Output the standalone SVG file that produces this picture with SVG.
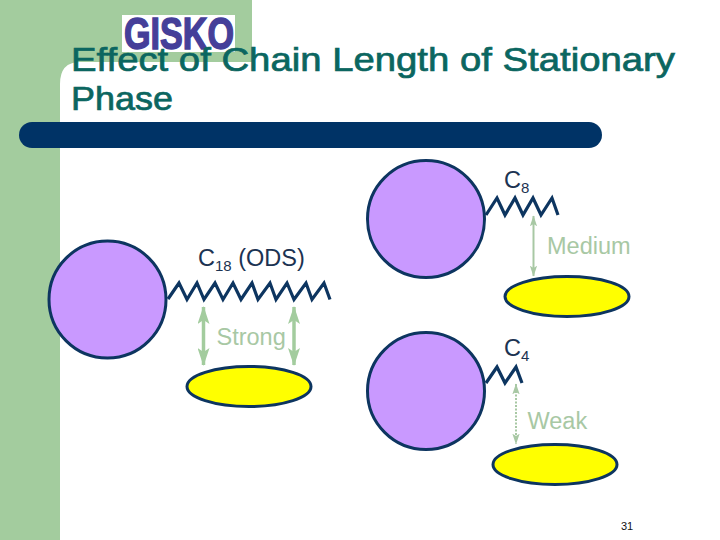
<svg xmlns="http://www.w3.org/2000/svg" width="720" height="540" viewBox="0 0 720 540">
<defs>
<marker id="ah" viewBox="0 0 18 12" refX="17" refY="6" markerWidth="18" markerHeight="12" orient="auto-start-reverse" markerUnits="userSpaceOnUse"><path d="M0 0L18 6L0 12L4 6Z" fill="#a3cc9e"/></marker>
<marker id="am" viewBox="0 0 18 12" refX="17" refY="6" markerWidth="11" markerHeight="7.300" orient="auto-start-reverse" markerUnits="userSpaceOnUse"><path d="M0 0L18 6L0 12L4 6Z" fill="#a8c8a4"/></marker>
</defs>
<style>
.sans{font-family:"Liberation Sans",Arial,sans-serif}
.title{font-size:33px;fill:#0b6660;stroke:#0b6660;stroke-width:.7px;font-family:"Liberation Sans",Arial,sans-serif}
.lab{font-size:23.500px;fill:#1c3352}
.sub{font-size:15px;fill:#1c3352}
.bond{font-size:23.500px;fill:#a8c8a4}
.bead{fill:#c999ff;stroke:#0d3560;stroke-width:3}
.tgt{fill:#ffff00;stroke:#0d3560;stroke-width:3}
.chain{fill:none;stroke:#0d3560;stroke-width:3.200}
.arr{fill:none}
</style>
<rect width="720" height="540" fill="#fff"/>
<path d="M0 0H252V62H80Q60 62 60 84V540H0Z" fill="#a3cc9e"/>
<g id="logo">
<rect x="122" y="15" width="113" height="37" fill="#fff"/>
<text x="124" y="49" class="sans" font-size="45" font-weight="700" fill="#453f99" stroke="#453f99" stroke-width="1.500" textLength="110" lengthAdjust="spacingAndGlyphs">GISKO</text>
</g>
<g id="title">
<text class="title" x="71" y="71" textLength="604" lengthAdjust="spacingAndGlyphs">Effect of Chain Length of Stationary</text>
<text class="title" x="71" y="110" textLength="102" lengthAdjust="spacingAndGlyphs">Phase</text>
</g>
<rect id="rule" x="19" y="122" width="583" height="26" rx="13" ry="13" fill="#003366"/>
<g id="connectors">
<path class="chain" d="M168 299L179 283L187 299.500L197 283L204 299.500L215 283L223 299.500L233 283L241 299.500L252 283L258 299.500L270 283L276 299.500L287 283L294 299.500L306 283L312 299.500L324 283L330 299.500"/>
<path class="chain" d="M486 215L497 198L505 215L515 198L523 215L533 198L541 215L552 198L558 215"/>
<path class="chain" d="M486 383L497 367L505 383L516 367L522 383"/>
<path class="arr" stroke="#a3cc9e" stroke-width="3.500" marker-start="url(#ah)" marker-end="url(#ah)" d="M203.500 307V365"/>
<path class="arr" stroke="#a3cc9e" stroke-width="3.500" marker-start="url(#ah)" marker-end="url(#ah)" d="M294 307V365"/>
<path class="arr" stroke="#a8c8a4" stroke-width="2" marker-start="url(#am)" marker-end="url(#am)" d="M533.500 216V276"/>
<path class="arr" stroke="#a8c8a4" stroke-width="2" stroke-dasharray="2 1.500" marker-start="url(#am)" marker-end="url(#am)" d="M516 384V444"/>
</g>
<g id="bead-c18"><circle class="bead" cx="107.500" cy="299.500" r="58.500"/></g>
<g id="bead-c8"><circle class="bead" cx="426" cy="219" r="58.500"/></g>
<g id="bead-c4"><circle class="bead" cx="426" cy="391" r="58.500"/></g>
<g id="target-strong"><ellipse class="tgt" cx="249" cy="386.500" rx="62" ry="20"/></g>
<g id="target-medium"><ellipse class="tgt" cx="567" cy="296.500" rx="62" ry="20"/></g>
<g id="target-weak"><ellipse class="tgt" cx="555" cy="464.500" rx="62" ry="20"/></g>
<g id="labels" class="sans">
<text class="lab" x="198" y="265.500">C<tspan class="sub" dy="5">18</tspan><tspan dy="-5"> (ODS)</tspan></text>
<text class="lab" x="504" y="187.500">C<tspan class="sub" dy="5">8</tspan></text>
<text class="lab" x="504" y="356">C<tspan class="sub" dy="5">4</tspan></text>
<text class="bond" x="216.500" y="344.500">Strong</text>
<text class="bond" x="547" y="254">Medium</text>
<text class="bond" x="527.500" y="428.500">Weak</text>
<text x="621" y="529.500" font-size="11" fill="#111">31</text>
</g>
</svg>
